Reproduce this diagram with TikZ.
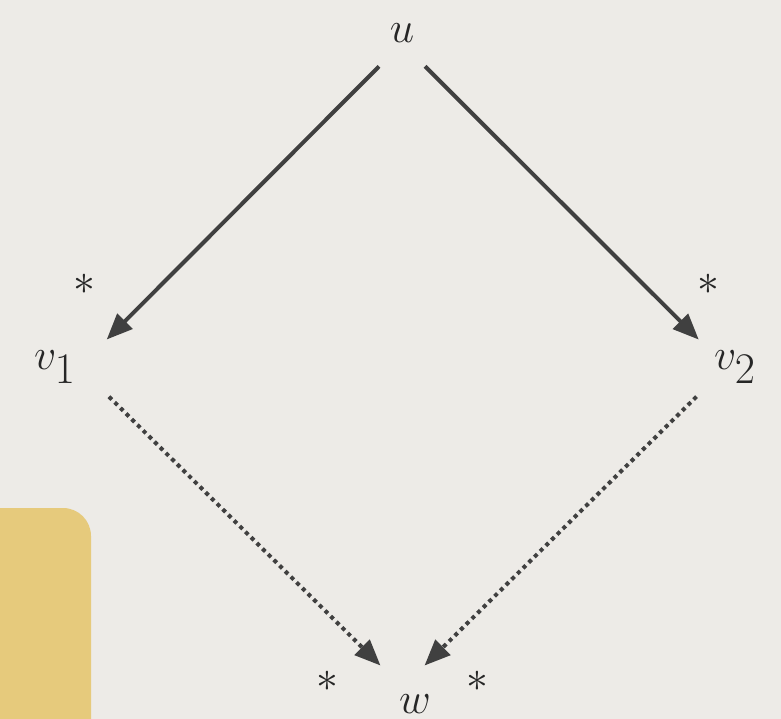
\documentclass[tikz,border=0pt]{standalone}
\usepackage{amsmath,amssymb}
\usepackage{tikz}
\usetikzlibrary{positioning,arrows.meta,calc}
\usepackage{xcolor}
\definecolor{PaperGray}{RGB}{237,235,231}
\definecolor{SandYellow}{RGB}{230,202,124}
\definecolor{InkGray}{RGB}{64,64,64}

\begin{document}
\begin{tikzpicture}[x=0.02cm, y=-0.02cm,
    vtx/.style={inner sep=0pt, anchor=base, text=black!85,
                font=\fontsize{38}{44}\selectfont},
    star/.style={inner sep=0pt, text=black!85, font=\fontsize{26}{30}\selectfont},
    arrow/.style={-{Triangle[length=5.2mm, width=4.2mm]}, line width=0.8mm,
                  draw=InkGray, shorten <=6.5mm, shorten >=7.8mm},
    dotarrow/.style={arrow, dash pattern=on 0.8mm off 0.8mm,
                     shorten <=8.4mm, shorten >=6.2mm}
]
    % paper and the yellow card at the lower left
    \clip (0,0) rectangle (781,719);
    \fill[PaperGray] (0,0) rectangle (781,719);
    \fill[SandYellow, rounded corners=5.6mm] (-40,508) rectangle (91,770);

    \node[vtx] (u)  at (402,43)  {$u$};
    \node[vtx] (v1) at (55,370)  {$v_1$};
    \node[vtx] (v2) at (735,370) {$v_2$};
    \node[vtx] (w)  at (415,713) {$w$};

    \node[star] (s1) at (84,284)  {$\ast$};
    \node[star] (s2) at (708,284) {$\ast$};
    \node[star] (s3) at (327,681) {$\ast$};
    \node[star] (s4) at (477,681) {$\ast$};

    \draw[arrow] (u.south) -- ([shift={(3,0)}]v1.east);
    \draw[arrow] (u.south) -- ([shift={(12.5,0)}]v2.west);
    \draw[dotarrow] ([shift={(3,0)}]v1.east) -- ([shift={(-12.5,-6.5)}]w.north);
    \draw[dotarrow] ([shift={(12.5,0)}]v2.west) -- ([shift={(-12.5,-6.5)}]w.north);
\end{tikzpicture}
\end{document}
